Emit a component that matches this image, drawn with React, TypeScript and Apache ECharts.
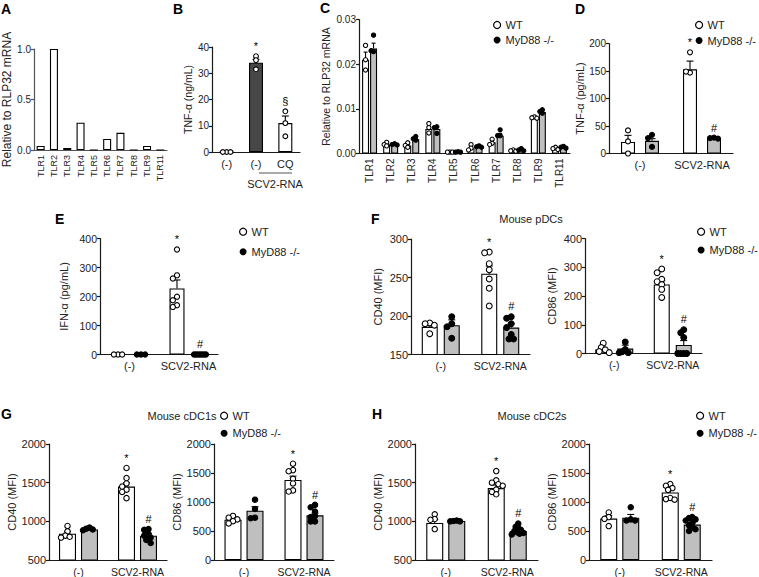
import React, { useEffect, useRef } from 'react';
import * as echarts from 'echarts';

const FONT = '"Liberation Sans", Arial, Helvetica, sans-serif';

// ---------------- DATA ----------------
const tlrCats = ['TLR1', 'TLR2', 'TLR3', 'TLR4', 'TLR5', 'TLR6', 'TLR7', 'TLR8', 'TLR9', 'TLR11'];
const aValues = [0.04, 1.0, 0.02, 0.27, 0, 0.11, 0.17, 0, 0.04, 0];

const bCats = ['(-)', '(-)', 'CQ'];
const bMeans = [0, 34, 11];
const bSem = [0, 1.3, 2.7];
const bPoints = [[0, 0, 0], [36.5, 35, 31.5], [15.5, 11, 6]];
const bSig = ['', '*', '§'];

const cWTMeans = [0.021, 0.002, 0.0018, 0.0055, 0.0003, 0.0012, 0.0025, 0.0006, 0.008, 0.001];
const cWTSem = [0.0017, 0.0002, 0.0002, 0.0006, 0.0001, 0.0003, 0.0004, 0.0001, 0.0002, 0.0002];
const cWTPoints = [[0.0242, 0.021, 0.0187], [0.0025, 0.002, 0.0017], [0.0024, 0.0018, 0.0014], [0.0067, 0.0058, 0.0046], [0.0003, 0.0003, 0.0003], [0.002, 0.0012, 0.0008], [0.0032, 0.0023, 0.002], [0.0008, 0.0006, 0.0005], [0.0082, 0.008, 0.0079], [0.0014, 0.0011, 0.0009]];
const cKOMeans = [0.0235, 0.002, 0.0032, 0.0055, 0.0003, 0.0015, 0.004, 0.0008, 0.0093, 0.0013];
const cKOSem = [0.0012, 0.0001, 0.0003, 0.0005, 0.0001, 0.0001, 0.0005, 0.0002, 0.0003, 0.0001];
const cKOPoints = [[0.0265, 0.0228, 0.023], [0.0022, 0.002, 0.0019], [0.0038, 0.0033, 0.003], [0.006, 0.0058, 0.0045], [0.0004, 0.0003, 0.0003], [0.0017, 0.0015, 0.0014], [0.0053, 0.004, 0.004], [0.0011, 0.0008, 0.0006], [0.0098, 0.0094, 0.009], [0.0016, 0.0014, 0.0012]];

const groupCats = ['(-)', 'SCV2-RNA'];
const sigWT = ['', '*'];
const sigKO = ['', '#'];

const dWTMeans = [21, 153];
const dWTSem = [12, 15];
const dWTPoints = [[42, 22, 0], [184, 147, 149]];
const dKOMeans = [23, 28];
const dKOSem = [4, 1];
const dKOPoints = [[34, 28, 12], [29, 28, 27]];

const eWTMeans = [0, 228];
const eWTSem = [0, 29];
const eWTPoints = [[0, 0, 0], [362, 273, 262, 199, 187, 170, 164]];
const eKOMeans = [0, 0];
const eKOSem = [0, 0];
const eKOPoints = [[0, 0, 0], [0, 0, 0, 0, 0, 0, 0]];

const f1WTMeans = [186, 255];
const f1WTSem = [3, 10];
const f1WTPoints = [[191, 190, 188, 177], [283, 282, 268, 260, 248, 236, 213]];
const f1KOMeans = [188, 185];
const f1KOSem = [7, 5];
const f1KOPoints = [[199, 190, 186, 171], [199, 197, 190, 185, 176, 170, 170]];

const f2WTMeans = [14, 240];
const f2WTSem = [6, 13];
const f2WTPoints = [[36, 21, 13, 7, 3], [294, 281, 258, 250, 240, 223, 195]];
const f2KOMeans = [17, 30];
const f2KOSem = [12, 15];
const f2KOPoints = [[40, 14, 6, 3, 3], [83, 72, 56, 0, 0, 0, 0]];

const g1WTMeans = [840, 1450];
const g1WTSem = [30, 50];
const g1WTPoints = [[940, 870, 815, 800, 790], [1690, 1560, 1490, 1450, 1410, 1380, 1300]];
const g1KOMeans = [895, 815];
const g1KOSem = [8, 25];
const g1KOPoints = [[920, 905, 895, 885], [900, 890, 840, 815, 790, 760, 720]];

const g2WTMeans = [695, 1380];
const g2WTSem = [25, 65];
const g2WTPoints = [[760, 730, 700, 670, 630], [1660, 1550, 1530, 1400, 1320, 1200, 1180]];
const g2KOMeans = [850, 770];
const g2KOSem = [70, 40];
const g2KOPoints = [[1040, 880, 730, 720], [950, 910, 835, 760, 740, 665, 665]];

const h1WTMeans = [980, 1430];
const h1WTSem = [45, 40];
const h1WTPoints = [[1090, 1030, 1020, 900], [1650, 1530, 1500, 1480, 1460, 1410, 1380, 1350]];
const h1KOMeans = [1005, 875];
const h1KOSem = [5, 20];
const h1KOPoints = [[1010, 1005, 1000, 1000], [970, 930, 910, 890, 875, 860, 850, 840, 830]];

const h2WTMeans = [715, 1165];
const h2WTSem = [50, 45];
const h2WTPoints = [[820, 740, 710, 585], [1310, 1280, 1240, 1210, 1070, 1050, 1040]];
const h2KOMeans = [730, 610];
const h2KOSem = [55, 30];
const h2KOPoints = [[910, 700, 680, 680], [740, 725, 700, 680, 640, 600, 560, 530, 500]];

// ---------------- BUILDERS ----------------
const WHITE = '#ffffff';
const GREY = '#bfbfbf';
const DARK = '#474747';
const WT = 'WT';
const KO = 'MyD88 -/-';

type Spec = { name: string; fills: string[]; ptFill: string; means: number[]; sem: number[]; pts: number[][]; sig: string[] };
type Panel = {
  rect: number[]; cats: string[]; yMin: number; yMax: number; yInt: number; yName: string; nameGap: number;
  nameSize: number; tickSize: number; catSize: number; rotate?: number; fmt?: (v: number) => string;
  barW: number; off: number; r: number; spread: number; cap: number; axisColor?: string; specs: Spec[];
};

function swarm(ys: number[], r: number, spread: number): number[] {
  const minD = r * 1.6;
  const step = r * 0.8;
  const placed: number[][] = [];
  const out = ys.map(() => 0);
  ys.forEach((y, i) => {
    for (let k = 0; k < 30; k++) {
      const m = Math.ceil(k / 2);
      const cand = k === 0 ? 0 : (k % 2 ? -m : m) * step;
      if (k === 29 || placed.every((q) => Math.hypot(q[0] - cand, q[1] - y) >= minD)) {
        out[i] = cand;
        placed.push([cand, y]);
        break;
      }
    }
  });
  const mx = Math.max(0, ...out.map(Math.abs));
  if (mx > spread) return out.map((o) => (o * spread) / mx);
  return out;
}

function build(panels: Panel[]) {
  const grid: any[] = [];
  const xAxis: any[] = [];
  const yAxis: any[] = [];
  const series: any[] = [];
  panels.forEach((p, gi) => {
    const [l, t, w, h] = p.rect;
    const ac = p.axisColor || '#1a1a1a';
    grid.push({ left: l, top: t, width: w, height: h });
    xAxis.push({
      type: 'category', gridIndex: gi, data: p.cats.map((_, i) => 'c' + i), boundaryGap: true,
      axisLine: { lineStyle: { color: ac, width: 1.2 } }, axisTick: { show: false },
      axisLabel: {
        interval: 0, formatter: (_v: string, i: number) => p.cats[i], fontSize: p.catSize, color: '#222',
        margin: p.rotate ? 5 : 6, rotate: p.rotate || 0, fontFamily: FONT,
      },
    });
    yAxis.push({
      type: 'value', gridIndex: gi, min: p.yMin, max: p.yMax, interval: p.yInt,
      name: p.yName, nameLocation: 'middle', nameGap: p.nameGap, nameRotate: 90,
      nameTextStyle: { fontSize: p.nameSize, color: '#222', fontFamily: FONT },
      axisLine: { show: true, lineStyle: { color: ac, width: 1.2 } },
      axisTick: { show: true, length: 3, lineStyle: { color: ac, width: 1.2 } },
      axisLabel: { fontSize: p.tickSize, color: '#222', margin: 3, formatter: p.fmt || ((v: number) => String(v)), fontFamily: FONT },
      splitLine: { show: false },
    });
    const n = p.specs.length;
    p.specs.forEach((s, si) => {
      const dx = n === 1 ? 0 : si === 0 ? -p.off : p.off;
      const bar: any = {
        type: 'bar', name: s.name, xAxisIndex: gi, yAxisIndex: gi, barWidth: p.barW,
        data: s.means.map((m, i) => ({ value: m, itemStyle: { color: s.fills[i % s.fills.length] } })),
        itemStyle: { borderColor: '#000', borderWidth: 1.1 }, z: 2, silent: true,
      };
      if (n > 1) bar.barGap = ((2 * p.off - p.barW) / p.barW) * 100 + '%';
      series.push(bar);
      series.push({
        type: 'custom', xAxisIndex: gi, yAxisIndex: gi, z: 3, silent: true,
        data: s.means.map((m, i) => [i, m, s.sem[i]]),
        renderItem: (params: any, api: any) => {
          const i = params.dataIndex;
          const m = s.means[i];
          const e = s.sem[i];
          const base = api.coord([i, m]);
          const top = api.coord([i, m + e]);
          const x = base[0] + dx;
          const children: any[] = [];
          if (e > 0) {
            children.push({ type: 'line', shape: { x1: x, y1: base[1], x2: x, y2: top[1] }, style: { stroke: '#000', lineWidth: 1.1 } });
            children.push({ type: 'line', shape: { x1: x - p.cap, y1: top[1], x2: x + p.cap, y2: top[1] }, style: { stroke: '#000', lineWidth: 1.1 } });
          }
          const sig = s.sig[i];
          if (sig) {
            let yTop = top[1];
            (s.pts[i] || []).forEach((v) => {
              const y = api.coord([i, v])[1] - p.r;
              if (y < yTop) yTop = y;
            });
            children.push({
              type: 'text',
              style: { text: sig, x, y: yTop - 2, align: 'center', verticalAlign: 'bottom', fontSize: 11, fill: '#000', fontFamily: FONT },
            });
          }
          return { type: 'group', children };
        },
      });
      const flat: number[][] = [];
      s.pts.forEach((arr, i) => arr.forEach((v, j) => flat.push([i, v, j])));
      if (flat.length) {
        series.push({
          type: 'custom', xAxisIndex: gi, yAxisIndex: gi, z: 4, silent: true, data: flat,
          renderItem: (params: any, api: any) => {
            const [i, v, j] = flat[params.dataIndex];
            const ys = s.pts[i].map((val) => api.coord([i, val])[1]);
            const offs = swarm(ys, p.r, p.spread);
            const c = api.coord([i, v]);
            return {
              type: 'circle',
              shape: { cx: c[0] + dx + offs[j], cy: c[1], r: p.r },
              style: { fill: s.ptFill, stroke: '#000', lineWidth: 1.1 },
            };
          },
        });
      }
    });
  });
  return { grid, xAxis, yAxis, series };
}

const wt = (means: number[], sem: number[], pts: number[][]): Spec => ({ name: WT, fills: [WHITE], ptFill: WHITE, means, sem, pts, sig: sigWT });
const ko = (means: number[], sem: number[], pts: number[][]): Spec => ({ name: KO, fills: [GREY], ptFill: '#000', means, sem, pts, sig: sigKO });

const panels: Panel[] = [
  {
    rect: [34, 49, 133, 101], cats: tlrCats, yMin: 0, yMax: 1, yInt: 0.5, yName: 'Relative to RLP32 mRNA', nameGap: 21,
    nameSize: 12, tickSize: 10, catSize: 9, rotate: 90, fmt: (v) => v.toFixed(1), barW: 8, off: 0, r: 0, spread: 0, cap: 0,
    axisColor: '#555',
    specs: [{ name: 'A', fills: [WHITE], ptFill: WHITE, means: aValues, sem: aValues.map(() => 0), pts: [], sig: [] }],
  },
  {
    rect: [212, 47, 88, 105], cats: bCats, yMin: 0, yMax: 40, yInt: 10, yName: 'TNF-α (ng/mL)', nameGap: 13,
    nameSize: 10.5, tickSize: 10, catSize: 11, barW: 14, off: 0, r: 2.4, spread: 5, cap: 3.5,
    specs: [{ name: 'B', fills: [WHITE, DARK, WHITE], ptFill: WHITE, means: bMeans, sem: bSem, pts: bPoints, sig: bSig }],
  },
  {
    rect: [359, 19.5, 211, 134], cats: tlrCats, yMin: 0, yMax: 0.03, yInt: 0.01, yName: 'Relative to RLP32 mRNA', nameGap: 28,
    nameSize: 10.5, tickSize: 10, catSize: 10, rotate: 90, fmt: (v) => v.toFixed(2), barW: 7, off: 4, r: 2.1, spread: 2.5, cap: 2,
    specs: [
      { name: WT, fills: [WHITE], ptFill: WHITE, means: cWTMeans, sem: cWTSem, pts: cWTPoints, sig: [] },
      { name: KO, fills: [GREY], ptFill: '#000', means: cKOMeans, sem: cKOSem, pts: cKOPoints, sig: [] },
    ],
  },
  {
    rect: [609, 43.5, 124, 110], cats: groupCats, yMin: 0, yMax: 200, yInt: 50, yName: 'TNF-α (pg/mL)', nameGap: 21,
    nameSize: 11, tickSize: 10, catSize: 11, barW: 14, off: 12, r: 2.5, spread: 5, cap: 3.5,
    specs: [wt(dWTMeans, dWTSem, dWTPoints), ko(dKOMeans, dKOSem, dKOPoints)],
  },
  {
    rect: [100, 238.5, 118, 116], cats: groupCats, yMin: 0, yMax: 400, yInt: 100, yName: 'IFN-α (pg/mL)', nameGap: 31,
    nameSize: 11, tickSize: 10.5, catSize: 11, barW: 15, off: 11.5, r: 2.6, spread: 6, cap: 3.5,
    specs: [wt(eWTMeans, eWTSem, eWTPoints), ko(eKOMeans, eKOSem, eKOPoints)],
  },
  {
    rect: [411, 239, 119, 115.5], cats: groupCats, yMin: 150, yMax: 300, yInt: 50, yName: 'CD40 (MFI)', nameGap: 28,
    nameSize: 11, tickSize: 11, catSize: 10.5, barW: 16, off: 11, r: 2.9, spread: 6, cap: 3.5,
    specs: [wt(f1WTMeans, f1WTSem, f1WTPoints), ko(f1KOMeans, f1KOSem, f1KOPoints)],
  },
  {
    rect: [585, 238.5, 117, 115], cats: groupCats, yMin: 0, yMax: 400, yInt: 100, yName: 'CD86 (MFI)', nameGap: 28,
    nameSize: 11, tickSize: 11, catSize: 10.5, barW: 16, off: 11, r: 2.9, spread: 6, cap: 3.5,
    specs: [wt(f2WTMeans, f2WTSem, f2WTPoints), ko(f2KOMeans, f2KOSem, f2KOPoints)],
  },
  {
    rect: [49, 444, 118, 116.5], cats: groupCats, yMin: 500, yMax: 2000, yInt: 500, yName: 'CD40 (MFI)', nameGap: 31,
    nameSize: 11, tickSize: 11, catSize: 10.5, barW: 17, off: 11, r: 2.7, spread: 6.5, cap: 3.5,
    specs: [wt(g1WTMeans, g1WTSem, g1WTPoints), ko(g1KOMeans, g1KOSem, g1KOPoints)],
  },
  {
    rect: [214, 444, 120, 116.5], cats: groupCats, yMin: 0, yMax: 2000, yInt: 500, yName: 'CD86 (MFI)', nameGap: 31,
    nameSize: 11, tickSize: 11, catSize: 10.5, barW: 17, off: 11, r: 2.7, spread: 6.5, cap: 3.5,
    specs: [wt(g2WTMeans, g2WTSem, g2WTPoints), ko(g2KOMeans, g2KOSem, g2KOPoints)],
  },
  {
    rect: [415, 444, 123, 116.5], cats: groupCats, yMin: 500, yMax: 2000, yInt: 500, yName: 'CD40 (MFI)', nameGap: 29,
    nameSize: 11, tickSize: 11, catSize: 10.5, barW: 17, off: 11, r: 2.7, spread: 6.5, cap: 3.5,
    specs: [wt(h1WTMeans, h1WTSem, h1WTPoints), ko(h1KOMeans, h1KOSem, h1KOPoints)],
  },
  {
    rect: [589, 444, 123, 116.5], cats: groupCats, yMin: 0, yMax: 2000, yInt: 500, yName: 'CD86 (MFI)', nameGap: 31,
    nameSize: 11, tickSize: 11, catSize: 10.5, barW: 17, off: 11, r: 2.7, spread: 6.5, cap: 3.5,
    specs: [wt(h2WTMeans, h2WTSem, h2WTPoints), ko(h2KOMeans, h2KOSem, h2KOPoints)],
  },
];

function legendAt(left: number, firstRow: number, rowGap: number) {
  return {
    left, top: firstRow - 6.5, orient: 'vertical', itemGap: rowGap - 13, itemWidth: 7, itemHeight: 7, padding: 0,
    selectedMode: false,
    textStyle: { fontSize: 11, color: '#222', fontFamily: FONT, lineHeight: 13 },
    data: [
      { name: WT, icon: 'circle', itemStyle: { color: '#fff', borderColor: '#000', borderWidth: 1.2 } },
      { name: KO, icon: 'circle', itemStyle: { color: '#000', borderColor: '#000', borderWidth: 0 } },
    ],
  };
}

function letter(text: string, x: number, y: number) {
  return {
    type: 'text', x, y,
    style: { text, fontSize: 14, fontWeight: 'bold', fill: '#000', fontFamily: FONT, align: 'left', verticalAlign: 'middle', textAlign: 'left', textVerticalAlign: 'middle' },
  };
}
function ctext(text: string, x: number, y: number, size = 11) {
  return {
    type: 'text', x, y,
    style: { text, fontSize: size, fill: '#222', fontFamily: FONT, align: 'center', verticalAlign: 'middle', textAlign: 'center', textVerticalAlign: 'middle' },
  };
}

export default function App() {
  const ref = useRef<HTMLDivElement>(null);
  useEffect(() => {
    if (!ref.current) return;
    const chart = echarts.init(ref.current, null, { renderer: 'svg' });
    const built = build(panels);
    chart.setOption({
      animation: false,
      backgroundColor: '#fff',
      textStyle: { fontFamily: FONT },
      ...built,
      legend: [
        legendAt(493, 25, 15),
        legendAt(695, 25, 15.5),
        legendAt(239, 231.7, 20),
        legendAt(697, 231.7, 18.3),
        legendAt(220, 415.7, 17.6),
        legendAt(696, 415.7, 17.6),
      ],
      graphic: [
        letter('A', 1, 9),
        letter('B', 173, 9),
        letter('C', 320, 8),
        letter('D', 575, 9),
        letter('E', 55, 219),
        letter('F', 371, 219),
        letter('G', 1, 414),
        letter('H', 372, 414),
        ctext('Mouse pDCs', 531, 219),
        ctext('Mouse cDC1s', 182, 416),
        ctext('Mouse cDC2s', 532, 416),
        { type: 'line', shape: { x1: 259, y1: 173, x2: 292, y2: 173 }, style: { stroke: '#555', lineWidth: 1.2 } },
        ctext('SCV2-RNA', 275, 184),
      ],
    });
    return () => chart.dispose();
  }, []);
  return <div ref={ref} style={{ position: 'fixed', left: 0, top: 0, width: 759, height: 577, background: '#fff' }} />;
}
